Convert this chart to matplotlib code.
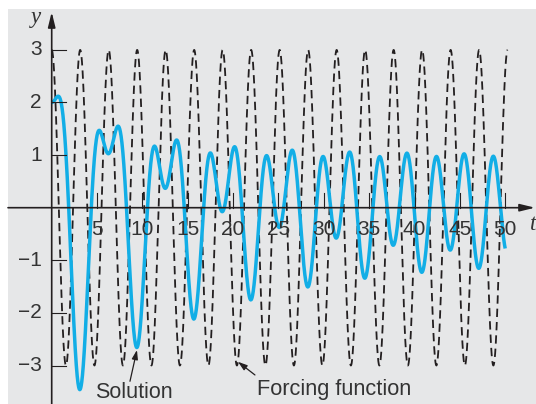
import numpy as np
import matplotlib
matplotlib.use("Agg")
import matplotlib.pyplot as plt
from matplotlib.patches import Rectangle

# ---- data (model) ----
forcing_amplitude = 3.0      # dashed curve peaks at +/-3
forcing_omega = 2.0          # period ~ pi (16 peaks over 0..50)
damping = 0.125
natural_freq_sq = 1.0
u0 = 2.0                     # solution starts at y = 2
v0 = 0.0
t_end = 50.0
t_end_forcing = 50.27        # dashed curve ends on its last peak

x_ticks = [5, 10, 15, 20, 25, 30, 35, 40, 45, 50]
x_tick_labels = ["5", "10", "15", "20", "25", "30", "35", "40", "45", "50"]
y_ticks = [-3, -2, -1, 1, 2, 3]
y_tick_labels = ["\u22123", "\u22122", "\u22121", "1", "2", "3"]

# ---- compute curves ----
t = np.linspace(0, t_end, 5001)
tf = np.linspace(0, t_end_forcing, 5001)
forcing = forcing_amplitude * np.cos(forcing_omega * tf)

def rhs(tt, s):
    u, v = s
    return np.array([v, forcing_amplitude * np.cos(forcing_omega * tt) - damping * v - natural_freq_sq * u])

sol = np.empty_like(t)
s = np.array([u0, v0])
sol[0] = u0
for i in range(1, len(t)):
    h = t[i] - t[i - 1]
    tt = t[i - 1]
    k1 = rhs(tt, s)
    k2 = rhs(tt + h / 2, s + h / 2 * k1)
    k3 = rhs(tt + h / 2, s + h / 2 * k2)
    k4 = rhs(tt + h, s + h * k3)
    s = s + h / 6 * (k1 + 2 * k2 + 2 * k3 + k4)
    sol[i] = s[0]

# ---- figure ----
plt.rcParams['lines.scale_dashes'] = False
W, H = 536, 404
fig = plt.figure(figsize=(W / 100, H / 100), dpi=100)
fig.patch.set_facecolor("white")
fig.add_artist(Rectangle((8 / W, 0), 1, (H - 9) / H, transform=fig.transFigure,
                         facecolor="#e6e7e8", edgecolor="none", zorder=0))

ax = fig.add_axes([0, 0, 1, 1])
ax.patch.set_alpha(0)

# pixel mapping: t=0 at x=51.7, 9.07 px/unit ; y=0 at 207.7, 52.6 px/unit
x0p, sx = 51.7, 9.07
y0p, sy = 207.7, 52.6
ax.set_xlim((0 - x0p) / sx, (W - x0p) / sx)
ax.set_ylim(-(H - y0p) / sy, y0p / sy)

ink = "#231f20"
txt = "#333333"

ax.plot(tf, forcing, color=ink, lw=1.3, dashes=(6.0, 3.6), zorder=3)
ax.plot(t, sol, color="#12aee6", lw=2.5, zorder=4, solid_capstyle="butt")

for sp in ax.spines.values():
    sp.set_visible(False)

# axes lines with arrows
x_left = (8 - x0p) / sx
x_tip = (535 - x0p) / sx
y_bot = -(H - y0p) / sy
y_tip = (y0p - 12) / sy
arrow = dict(arrowstyle="-|>,head_length=0.9,head_width=0.22", lw=1.2, color=ink,
             shrinkA=0, shrinkB=0)
ax.annotate("", xy=(x_tip, 0), xytext=(x_left, 0), arrowprops=arrow, zorder=5)
ax.annotate("", xy=(0, y_tip), xytext=(0, y_bot), arrowprops=arrow, zorder=5)

# ticks
tick_len_x = 15 / sy
tick_len_y = 14 / sx
for xt, lab in zip(x_ticks, x_tick_labels):
    ax.plot([xt, xt], [0, tick_len_x], color=ink, lw=0.8, zorder=5)
    ax.text(xt, -12 / sy, lab, ha="center", va="top", fontsize=15,
            family="Liberation Sans", color=txt, zorder=6)
for yt, lab in zip(y_ticks, y_tick_labels):
    ax.plot([0, tick_len_y], [yt, yt], color=ink, lw=0.8, zorder=5)
    ax.text(-10 / sx, yt, lab, ha="right", va="center", fontsize=15,
            family="Liberation Sans", color=txt, zorder=6)

ax.text((36 - x0p) / sx, (y0p - 18) / sy, "y", ha="center", va="center",
        fontsize=16.5, family="Liberation Serif", style="italic", color=txt)
ax.text((533 - x0p) / sx, (y0p - 225) / sy, "t", ha="center", va="center",
        fontsize=16.5, family="Liberation Serif", style="italic", color=txt)

small_arrow = dict(arrowstyle="-|>,head_length=0.55,head_width=0.18", lw=0.9, color=ink,
                   shrinkA=0, shrinkB=0)
ax.annotate("", xy=(9.40, -2.705), xytext=(8.63, -3.30), arrowprops=small_arrow, zorder=7)
ax.text(4.77, -3.625, "Solution", ha="left", va="baseline", fontsize=15.5,
        family="Liberation Sans", color=txt)
ax.annotate("", xy=(20.54, -2.93), xytext=(22.41, -3.18), arrowprops=small_arrow, zorder=7)
ax.text(22.63, -3.56, "Forcing function", ha="left", va="baseline", fontsize=15.7,
        family="Liberation Sans", color=txt)

ax.set_xticks([])
ax.set_yticks([])

fig.savefig("out.png", dpi=100)
